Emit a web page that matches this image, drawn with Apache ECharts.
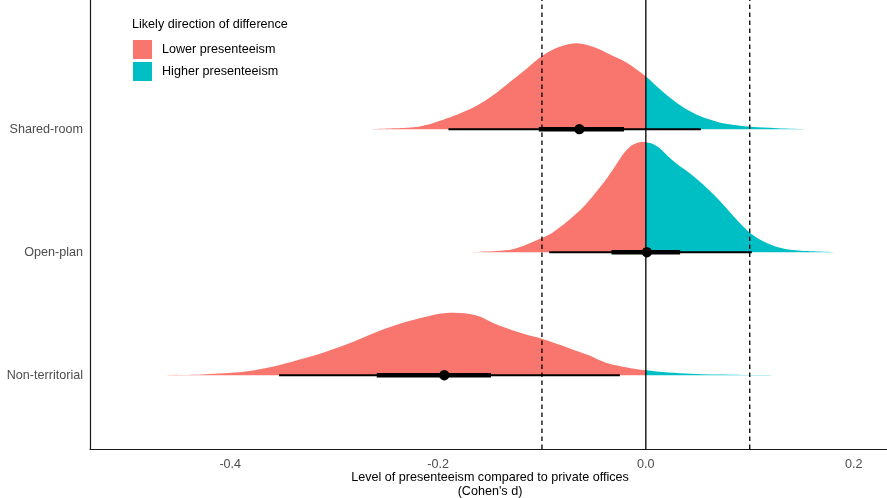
<!DOCTYPE html>
<html>
<head>
<meta charset="utf-8">
<script src="https://cdn.jsdelivr.net/npm/echarts@6/dist/echarts.min.js"></script>
<style>html,body{margin:0;padding:0;background:#fff;}#c{width:887px;height:498px;}</style>
</head>
<body>
<div id="c"></div>
<script>
// ---- data ----
const categories = ['Non-territorial', 'Open-plan', 'Shared-room'];
const xTickValues = [-0.4, -0.2, 0.0, 0.2];
const legendNames = ['Lower presenteeism', 'Higher presenteeism'];
const xTitle = "Level of presenteeism compared to private offices\n(Cohen's d)";

// density curves (x in Cohen's d, height in category units)
const nonTerrX = [-0.4765, -0.4275, -0.3765, -0.3294, -0.2902, -0.2510, -0.2196, -0.1922, -0.1647, -0.1412, -0.1176, -0.1000, -0.0745, -0.0549, -0.0353, 0, 0.0431, 0.0824, 0.1216];
const nonTerrD = [0, 0.006, 0.040, 0.135, 0.243, 0.377, 0.458, 0.506, 0.490, 0.404, 0.337, 0.296, 0.222, 0.162, 0.094, 0.040, 0.011, 0.003, 0];
const openX = [-0.1669, -0.1399, -0.1239, -0.0992, -0.0886, -0.0757, -0.0597, -0.0436, -0.0308, -0.0212, -0.0116, 0, 0.0110, 0.0270, 0.0462, 0.0655, 0.0848, 0.1008, 0.1169, 0.1394, 0.1811];
const openD = [0, 0.011, 0.033, 0.119, 0.167, 0.249, 0.371, 0.533, 0.683, 0.805, 0.878, 0.894, 0.859, 0.737, 0.615, 0.466, 0.289, 0.154, 0.073, 0.019, 0];
const sharedX = [-0.2635, -0.2266, -0.2105, -0.1913, -0.1785, -0.1624, -0.1464, -0.1303, -0.1142, -0.0982, -0.0822, -0.0661, -0.0501, -0.0340, -0.0179, 0, 0.0142, 0.0302, 0.0462, 0.0623, 0.0784, 0.1008, 0.1266, 0.1554];
const sharedD = [0, 0.013, 0.035, 0.089, 0.130, 0.192, 0.279, 0.387, 0.496, 0.604, 0.672, 0.699, 0.667, 0.604, 0.537, 0.428, 0.320, 0.211, 0.130, 0.076, 0.041, 0.019, 0.008, 0];

// intervals per category (Non-territorial, Open-plan, Shared-room)
const medians = [-0.194, 0.001, -0.064];
const lo95 = [-0.353, -0.093, -0.190];
const hi95 = [-0.025, 0.102, 0.053];
const lo66 = [-0.259, -0.033, -0.103];
const hi66 = [-0.149, 0.033, -0.021];

// reference lines
const refLineX = [-0.1, 0, 0.1];
const refLineDashed = [true, false, true];

// ---- chart ----
const densX = [nonTerrX, openX, sharedX];
const densD = [nonTerrD, openD, sharedD];
const RED = '#F8766D', TEAL = '#00BFC4';
const FONT = '"Liberation Sans", Arial, sans-serif';
const FS = 12.6;
const Y_MIN = 0.4, Y_MAX = 4.05;

function densityPath(api, ci, side) {
  const xs = densX[ci], ds = densD[ci], base = ci + 1;
  const P = xs.map((x, i) => api.coord([x, base + ds[i]]));
  const i0 = xs.indexOf(0);
  const from = side === 'low' ? 0 : i0;
  const to = side === 'low' ? i0 : xs.length - 1;
  const b0 = api.coord([xs[from], base]);
  const b1 = api.coord([xs[to], base]);
  const basePx = b0[1];
  let d = 'M' + b0[0] + ' ' + b0[1] + ' L' + P[from][0] + ' ' + P[from][1];
  for (let i = from; i < to; i++) {
    const p0 = P[Math.max(i - 1, 0)], p1 = P[i], p2 = P[i + 1], p3 = P[Math.min(i + 2, P.length - 1)];
    const c1 = [p1[0] + (p2[0] - p0[0]) / 6, Math.min(basePx, p1[1] + (p2[1] - p0[1]) / 6)];
    const c2 = [p2[0] - (p3[0] - p1[0]) / 6, Math.min(basePx, p2[1] - (p3[1] - p1[1]) / 6)];
    d += ' C' + c1[0] + ' ' + c1[1] + ' ' + c2[0] + ' ' + c2[1] + ' ' + p2[0] + ' ' + p2[1];
  }
  d += ' L' + b1[0] + ' ' + b1[1] + ' Z';
  return d;
}

function densitySeries(name, side, color) {
  return {
    name: name, type: 'custom', z: 2, silent: true,
    itemStyle: { color: color },
    data: categories.map((c, i) => [medians[i], i + 1]),
    renderItem: function (params, api) {
      return { type: 'path', shape: { pathData: densityPath(api, params.dataIndex, side) }, style: { fill: color } };
    }
  };
}

const chart = echarts.init(document.getElementById('c'), null, { renderer: 'canvas' });
chart.setOption({
  backgroundColor: '#fff',
  animation: false,
  title: {
    text: 'Likely direction of difference', left: 132, top: 18, padding: 0,
    textStyle: { fontSize: FS, fontWeight: 'normal', color: '#000', fontFamily: FONT }
  },
  legend: {
    data: legendNames, orient: 'vertical', left: 133, top: 40, padding: 0,
    itemWidth: 19, itemHeight: 19, itemGap: 3, icon: 'rect', selectedMode: false,
    textStyle: { fontSize: FS, color: '#000', fontFamily: FONT, padding: [0, 0, 0, 5] }
  },
  graphic: [{
    type: 'text', x: 490, y: 471, silent: true,
    style: { text: xTitle, fill: '#000', font: FS + 'px ' + FONT, lineHeight: 14, align: 'center', verticalAlign: 'top' }
  }],
  grid: { left: 90, top: 0, width: 800, height: 449, containLabel: false, outerBoundsMode: 'none' },
  xAxis: {
    type: 'value', min: -0.535, max: 0.235, interval: 0.005,
    axisLine: { show: true, onZero: false, lineStyle: { color: '#1a1a1a', width: 1.2 } },
    axisTick: { show: false }, splitLine: { show: false },
    axisLabel: {
      color: '#4d4d4d', fontSize: FS, fontFamily: FONT, margin: 9,
      formatter: function (v) {
        for (const t of xTickValues) { if (Math.abs(v - t) < 1e-6) return t.toFixed(1); }
        return '';
      }
    }
  },
  yAxis: {
    type: 'value', min: Y_MIN, max: Y_MAX, interval: 0.05,
    axisLine: { show: true, onZero: false, lineStyle: { color: '#1a1a1a', width: 1.2 } },
    axisTick: { show: false }, splitLine: { show: false },
    axisLabel: {
      color: '#4d4d4d', fontSize: FS, fontFamily: FONT, margin: 7,
      formatter: function (v) {
        const r = Math.round(v);
        return (Math.abs(v - r) < 1e-6 && r >= 1 && r <= categories.length) ? categories[r - 1] : '';
      }
    }
  },
  series: [
    densitySeries(legendNames[0], 'low', RED),
    densitySeries(legendNames[1], 'high', TEAL),
    {
      name: 'refLines', type: 'custom', z: 3, silent: true,
      data: refLineX.map(x => [x, 1]),
      renderItem: function (params, api) {
        const x = api.value(0);
        const p0 = api.coord([x, Y_MIN]), p1 = api.coord([x, Y_MAX]);
        return {
          type: 'line', shape: { x1: p0[0], y1: p0[1], x2: p1[0], y2: p1[1] },
          style: { stroke: '#000', lineWidth: 1.3, lineDash: refLineDashed[params.dataIndex] ? [4.5, 3.5] : null }
        };
      }
    },
    {
      name: 'intervals', type: 'custom', z: 4, silent: true,
      data: categories.map((c, i) => [medians[i], i + 1]),
      renderItem: function (params, api) {
        const i = params.dataIndex, base = i + 1;
        const a = api.coord([lo95[i], base]), b = api.coord([hi95[i], base]);
        const c = api.coord([lo66[i], base]), d = api.coord([hi66[i], base]);
        const m = api.coord([medians[i], base]);
        return {
          type: 'group', children: [
            { type: 'line', shape: { x1: a[0], y1: a[1], x2: b[0], y2: b[1] }, style: { stroke: '#000', lineWidth: 2 } },
            { type: 'line', shape: { x1: c[0], y1: c[1], x2: d[0], y2: d[1] }, style: { stroke: '#000', lineWidth: 4.5 } },
            { type: 'circle', shape: { cx: m[0], cy: m[1], r: 5.2 }, style: { fill: '#000' } }
          ]
        };
      }
    }
  ]
});
</script>
</body>
</html>
